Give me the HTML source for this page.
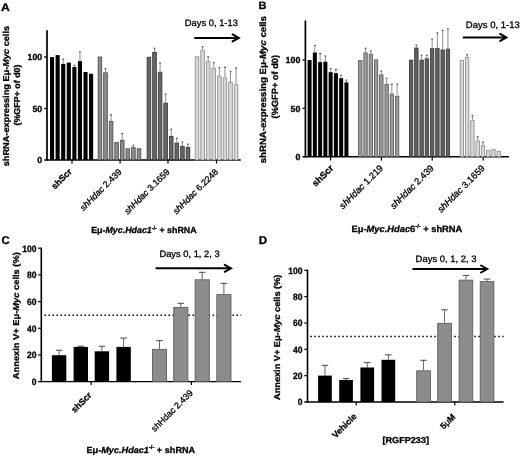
<!DOCTYPE html><html><head><meta charset="utf-8"><style>html,body{margin:0;padding:0;background:#fff;}svg{display:block;will-change:transform;}text{font-family:"Liberation Sans", sans-serif;fill:#000;text-rendering:geometricPrecision;stroke:#000;stroke-width:0.3px;}</style></head><body>
<svg width="520" height="456" viewBox="0 0 520 456">
<rect width="520" height="456" fill="#fff"/>
<line x1="47" y1="30.3" x2="47" y2="160.6" stroke="#000" stroke-width="1.7" />
<line x1="44.2" y1="160" x2="240.7" y2="160" stroke="#000" stroke-width="1.4" />
<line x1="44.2" y1="57" x2="47" y2="57" stroke="#000" stroke-width="1.4" />
<line x1="44.2" y1="108.5" x2="47" y2="108.5" stroke="#000" stroke-width="1.4" />
<text x="42.2" y="60.2" font-size="8.8" font-weight="bold" text-anchor="end"  style="">100</text>
<text x="42.2" y="111.7" font-size="8.8" font-weight="bold" text-anchor="end"  style="">50</text>
<text x="42.2" y="163.2" font-size="8.8" font-weight="bold" text-anchor="end"  style="">0</text>
<line x1="72" y1="160" x2="72" y2="163.5" stroke="#000" stroke-width="1.2" />
<line x1="120.1" y1="160" x2="120.1" y2="163.5" stroke="#000" stroke-width="1.2" />
<line x1="168" y1="160" x2="168" y2="163.5" stroke="#000" stroke-width="1.2" />
<line x1="216.5" y1="160" x2="216.5" y2="163.5" stroke="#000" stroke-width="1.2" />
<rect x="50" y="57.1" width="4.1" height="102.9" fill="#000"/>
<rect x="55.58" y="55.1" width="4.1" height="104.9" fill="#000"/>
<line x1="63.21" y1="63.9" x2="63.21" y2="59.1" stroke="#707070" stroke-width="0.8" />
<line x1="62.31" y1="59.1" x2="64.11" y2="59.1" stroke="#404040" stroke-width="1.0" />
<rect x="61.16" y="63.9" width="4.1" height="96.1" fill="#000"/>
<rect x="66.74" y="62.6" width="4.1" height="97.4" fill="#000"/>
<line x1="74.37" y1="67" x2="74.37" y2="65.2" stroke="#707070" stroke-width="0.8" />
<line x1="73.47" y1="65.2" x2="75.27" y2="65.2" stroke="#404040" stroke-width="1.0" />
<rect x="72.32" y="67" width="4.1" height="93" fill="#000"/>
<line x1="79.95" y1="61.1" x2="79.95" y2="52" stroke="#707070" stroke-width="0.8" />
<line x1="79.05" y1="52" x2="80.85" y2="52" stroke="#404040" stroke-width="1.0" />
<rect x="77.9" y="61.1" width="4.1" height="98.9" fill="#000"/>
<rect x="83.48" y="72" width="4.1" height="88" fill="#000"/>
<rect x="89.06" y="73.7" width="4.1" height="86.3" fill="#000"/>
<rect x="98.1" y="57" width="3.65" height="103" fill="#8a8a8a" stroke="#4a4a4a" stroke-width="0.8"/>
<line x1="105.5" y1="72.4" x2="105.5" y2="68.7" stroke="#707070" stroke-width="0.8" />
<line x1="104.6" y1="68.7" x2="106.41" y2="68.7" stroke="#404040" stroke-width="1.0" />
<rect x="103.68" y="72.8" width="3.65" height="87.2" fill="#8a8a8a" stroke="#4a4a4a" stroke-width="0.8"/>
<line x1="111.08" y1="121.1" x2="111.08" y2="114.8" stroke="#707070" stroke-width="0.8" />
<line x1="110.18" y1="114.8" x2="111.98" y2="114.8" stroke="#404040" stroke-width="1.0" />
<rect x="109.26" y="121.5" width="3.65" height="38.5" fill="#8a8a8a" stroke="#4a4a4a" stroke-width="0.8"/>
<rect x="114.84" y="142.4" width="3.65" height="17.6" fill="#8a8a8a" stroke="#4a4a4a" stroke-width="0.8"/>
<line x1="122.25" y1="139.9" x2="122.25" y2="133.5" stroke="#707070" stroke-width="0.8" />
<line x1="121.34" y1="133.5" x2="123.15" y2="133.5" stroke="#404040" stroke-width="1.0" />
<rect x="120.42" y="140.3" width="3.65" height="19.7" fill="#8a8a8a" stroke="#4a4a4a" stroke-width="0.8"/>
<rect x="126" y="148.8" width="3.65" height="11.2" fill="#8a8a8a" stroke="#4a4a4a" stroke-width="0.8"/>
<line x1="133.41" y1="147.2" x2="133.41" y2="145.2" stroke="#707070" stroke-width="0.8" />
<line x1="132.5" y1="145.2" x2="134.31" y2="145.2" stroke="#404040" stroke-width="1.0" />
<rect x="131.58" y="147.6" width="3.65" height="12.4" fill="#8a8a8a" stroke="#4a4a4a" stroke-width="0.8"/>
<rect x="137.16" y="148.8" width="3.65" height="11.2" fill="#8a8a8a" stroke="#4a4a4a" stroke-width="0.8"/>
<rect x="147.1" y="57.2" width="3.65" height="102.8" fill="#666666" stroke="#333333" stroke-width="0.8"/>
<line x1="154.5" y1="52.1" x2="154.5" y2="48.2" stroke="#707070" stroke-width="0.8" />
<line x1="153.6" y1="48.2" x2="155.41" y2="48.2" stroke="#404040" stroke-width="1.0" />
<rect x="152.68" y="52.5" width="3.65" height="107.5" fill="#666666" stroke="#333333" stroke-width="0.8"/>
<line x1="160.08" y1="71.8" x2="160.08" y2="63" stroke="#707070" stroke-width="0.8" />
<line x1="159.18" y1="63" x2="160.98" y2="63" stroke="#404040" stroke-width="1.0" />
<rect x="158.26" y="72.2" width="3.65" height="87.8" fill="#666666" stroke="#333333" stroke-width="0.8"/>
<line x1="165.66" y1="102.8" x2="165.66" y2="94" stroke="#707070" stroke-width="0.8" />
<line x1="164.76" y1="94" x2="166.56" y2="94" stroke="#404040" stroke-width="1.0" />
<rect x="163.84" y="103.2" width="3.65" height="56.8" fill="#666666" stroke="#333333" stroke-width="0.8"/>
<line x1="171.24" y1="135.9" x2="171.24" y2="129.2" stroke="#707070" stroke-width="0.8" />
<line x1="170.34" y1="129.2" x2="172.14" y2="129.2" stroke="#404040" stroke-width="1.0" />
<rect x="169.42" y="136.3" width="3.65" height="23.7" fill="#666666" stroke="#333333" stroke-width="0.8"/>
<line x1="176.82" y1="142.7" x2="176.82" y2="138.2" stroke="#707070" stroke-width="0.8" />
<line x1="175.92" y1="138.2" x2="177.72" y2="138.2" stroke="#404040" stroke-width="1.0" />
<rect x="175" y="143.1" width="3.65" height="16.9" fill="#666666" stroke="#333333" stroke-width="0.8"/>
<line x1="182.41" y1="145.9" x2="182.41" y2="142" stroke="#707070" stroke-width="0.8" />
<line x1="181.5" y1="142" x2="183.31" y2="142" stroke="#404040" stroke-width="1.0" />
<rect x="180.58" y="146.3" width="3.65" height="13.7" fill="#666666" stroke="#333333" stroke-width="0.8"/>
<line x1="187.98" y1="147" x2="187.98" y2="144.2" stroke="#707070" stroke-width="0.8" />
<line x1="187.08" y1="144.2" x2="188.88" y2="144.2" stroke="#404040" stroke-width="1.0" />
<rect x="186.16" y="147.4" width="3.65" height="12.6" fill="#666666" stroke="#333333" stroke-width="0.8"/>
<rect x="195.2" y="56.8" width="3.65" height="103.2" fill="#d6d6d6" stroke="#8a8a8a" stroke-width="0.8"/>
<line x1="202.61" y1="50.3" x2="202.61" y2="46.6" stroke="#707070" stroke-width="0.8" />
<line x1="201.71" y1="46.6" x2="203.51" y2="46.6" stroke="#404040" stroke-width="1.0" />
<rect x="200.78" y="50.7" width="3.65" height="109.3" fill="#d6d6d6" stroke="#8a8a8a" stroke-width="0.8"/>
<line x1="208.19" y1="61.3" x2="208.19" y2="56.8" stroke="#707070" stroke-width="0.8" />
<line x1="207.28" y1="56.8" x2="209.09" y2="56.8" stroke="#404040" stroke-width="1.0" />
<rect x="206.36" y="61.7" width="3.65" height="98.3" fill="#d6d6d6" stroke="#8a8a8a" stroke-width="0.8"/>
<line x1="213.77" y1="67.9" x2="213.77" y2="62.6" stroke="#707070" stroke-width="0.8" />
<line x1="212.87" y1="62.6" x2="214.67" y2="62.6" stroke="#404040" stroke-width="1.0" />
<rect x="211.94" y="68.3" width="3.65" height="91.7" fill="#d6d6d6" stroke="#8a8a8a" stroke-width="0.8"/>
<line x1="219.34" y1="75.8" x2="219.34" y2="67.4" stroke="#707070" stroke-width="0.8" />
<line x1="218.44" y1="67.4" x2="220.25" y2="67.4" stroke="#404040" stroke-width="1.0" />
<rect x="217.52" y="76.2" width="3.65" height="83.8" fill="#d6d6d6" stroke="#8a8a8a" stroke-width="0.8"/>
<line x1="224.93" y1="77.5" x2="224.93" y2="67.2" stroke="#707070" stroke-width="0.8" />
<line x1="224.03" y1="67.2" x2="225.83" y2="67.2" stroke="#404040" stroke-width="1.0" />
<rect x="223.1" y="77.9" width="3.65" height="82.1" fill="#d6d6d6" stroke="#8a8a8a" stroke-width="0.8"/>
<line x1="230.51" y1="82.1" x2="230.51" y2="71.3" stroke="#707070" stroke-width="0.8" />
<line x1="229.61" y1="71.3" x2="231.41" y2="71.3" stroke="#404040" stroke-width="1.0" />
<rect x="228.68" y="82.5" width="3.65" height="77.5" fill="#d6d6d6" stroke="#8a8a8a" stroke-width="0.8"/>
<line x1="236.09" y1="84.3" x2="236.09" y2="68" stroke="#707070" stroke-width="0.8" />
<line x1="235.19" y1="68" x2="236.99" y2="68" stroke="#404040" stroke-width="1.0" />
<rect x="234.26" y="84.7" width="3.65" height="75.3" fill="#d6d6d6" stroke="#8a8a8a" stroke-width="0.8"/>
<g transform="translate(8.9,96.1) rotate(-90)"><text x="0" y="0" font-size="8.6" font-weight="bold" text-anchor="middle" textLength="140.4" lengthAdjust="spacingAndGlyphs">shRNA-expressing E&#956;-<tspan font-style="italic">Myc</tspan> cells</text></g>
<g transform="translate(19.9,95.0) rotate(-90)"><text x="0" y="0" font-size="8.6" font-weight="bold" text-anchor="middle" textLength="61" lengthAdjust="spacingAndGlyphs">(%GFP+ of d0)</text></g>
<g transform="translate(72.4,172.2) rotate(-45)"><text x="0" y="0" font-size="8.9" font-weight="bold" text-anchor="end">shScr</text></g>
<g transform="translate(122.3,172.4) rotate(-45)"><text x="0" y="0" font-size="8.9" font-weight="normal" text-anchor="end"><tspan font-style="italic">shHdac</tspan> 2.439</text></g>
<g transform="translate(170.2,172.4) rotate(-45)"><text x="0" y="0" font-size="8.9" font-weight="normal" text-anchor="end"><tspan font-style="italic">shHdac</tspan> 3.1659</text></g>
<g transform="translate(218.7,172.4) rotate(-45)"><text x="0" y="0" font-size="8.9" font-weight="normal" text-anchor="end"><tspan font-style="italic">shHdac</tspan> 6.2248</text></g>
<text x="184.8" y="26.1" font-size="9.4" font-weight="normal" text-anchor="start" textLength="53.1" lengthAdjust="spacingAndGlyphs" stroke="#000" stroke-width="0.25" style="">Days 0, 1-13</text>
<line x1="194.3" y1="37.9" x2="237.8" y2="37.9" stroke="#000" stroke-width="2.0" />
<polyline points="232.6,34.4 238.8,37.9 232.6,41.4" fill="none" stroke="#000" stroke-width="2.0" stroke-linejoin="miter" stroke-linecap="round"/>
<text x="91.2" y="233" font-size="8.8" font-weight="bold" textLength="105.4" lengthAdjust="spacingAndGlyphs">E&#956;-<tspan font-style="italic">Myc.Hdac1</tspan><tspan font-size="5.5" dy="-3.5">-/-</tspan><tspan dy="3.5"> + shRNA</tspan></text>
<text x="1" y="10.7" font-size="11" font-weight="bold" text-anchor="start" textLength="8.8" lengthAdjust="spacingAndGlyphs"  style="">A</text>
<line x1="305.4" y1="20.4" x2="305.4" y2="157.4" stroke="#000" stroke-width="1.7" />
<line x1="302.5" y1="156.8" x2="509" y2="156.8" stroke="#000" stroke-width="1.4" />
<line x1="302.5" y1="60" x2="305.4" y2="60" stroke="#000" stroke-width="1.4" />
<line x1="302.5" y1="108.4" x2="305.4" y2="108.4" stroke="#000" stroke-width="1.4" />
<text x="300.3" y="63.2" font-size="8.8" font-weight="bold" text-anchor="end"  style="">100</text>
<text x="300.3" y="111.6" font-size="8.8" font-weight="bold" text-anchor="end"  style="">50</text>
<text x="300.3" y="160" font-size="8.8" font-weight="bold" text-anchor="end"  style="">0</text>
<line x1="330.6" y1="156.8" x2="330.6" y2="160.6" stroke="#000" stroke-width="1.2" />
<line x1="381.4" y1="156.8" x2="381.4" y2="160.6" stroke="#000" stroke-width="1.2" />
<line x1="432.2" y1="156.8" x2="432.2" y2="160.6" stroke="#000" stroke-width="1.2" />
<line x1="483.2" y1="156.8" x2="483.2" y2="160.6" stroke="#000" stroke-width="1.2" />
<rect x="307.6" y="60" width="4" height="96.8" fill="#000"/>
<line x1="314.86" y1="52.5" x2="314.86" y2="45.3" stroke="#707070" stroke-width="0.8" />
<line x1="313.96" y1="45.3" x2="315.76" y2="45.3" stroke="#404040" stroke-width="1.0" />
<rect x="312.86" y="52.5" width="4" height="104.3" fill="#000"/>
<line x1="320.12" y1="62.1" x2="320.12" y2="53.4" stroke="#707070" stroke-width="0.8" />
<line x1="319.22" y1="53.4" x2="321.02" y2="53.4" stroke="#404040" stroke-width="1.0" />
<rect x="318.12" y="62.1" width="4" height="94.7" fill="#000"/>
<line x1="325.38" y1="61.7" x2="325.38" y2="56" stroke="#707070" stroke-width="0.8" />
<line x1="324.48" y1="56" x2="326.28" y2="56" stroke="#404040" stroke-width="1.0" />
<rect x="323.38" y="61.7" width="4" height="95.1" fill="#000"/>
<line x1="330.64" y1="72.2" x2="330.64" y2="68.7" stroke="#707070" stroke-width="0.8" />
<line x1="329.74" y1="68.7" x2="331.54" y2="68.7" stroke="#404040" stroke-width="1.0" />
<rect x="328.64" y="72.2" width="4" height="84.6" fill="#000"/>
<line x1="335.9" y1="73.2" x2="335.9" y2="69.6" stroke="#707070" stroke-width="0.8" />
<line x1="335" y1="69.6" x2="336.8" y2="69.6" stroke="#404040" stroke-width="1.0" />
<rect x="333.9" y="73.2" width="4" height="83.6" fill="#000"/>
<line x1="341.16" y1="78.2" x2="341.16" y2="75.3" stroke="#707070" stroke-width="0.8" />
<line x1="340.26" y1="75.3" x2="342.06" y2="75.3" stroke="#404040" stroke-width="1.0" />
<rect x="339.16" y="78.2" width="4" height="78.6" fill="#000"/>
<line x1="346.42" y1="82.4" x2="346.42" y2="80.1" stroke="#707070" stroke-width="0.8" />
<line x1="345.52" y1="80.1" x2="347.32" y2="80.1" stroke="#404040" stroke-width="1.0" />
<rect x="344.42" y="82.4" width="4" height="74.4" fill="#000"/>
<rect x="358.6" y="60.4" width="3.4" height="96.4" fill="#9a9a9a" stroke="#555555" stroke-width="0.8"/>
<line x1="365.56" y1="52.5" x2="365.56" y2="48.2" stroke="#707070" stroke-width="0.8" />
<line x1="364.66" y1="48.2" x2="366.46" y2="48.2" stroke="#404040" stroke-width="1.0" />
<rect x="363.86" y="52.9" width="3.4" height="103.9" fill="#9a9a9a" stroke="#555555" stroke-width="0.8"/>
<line x1="370.82" y1="53.8" x2="370.82" y2="51" stroke="#707070" stroke-width="0.8" />
<line x1="369.92" y1="51" x2="371.72" y2="51" stroke="#404040" stroke-width="1.0" />
<rect x="369.12" y="54.2" width="3.4" height="102.6" fill="#9a9a9a" stroke="#555555" stroke-width="0.8"/>
<rect x="374.38" y="59.9" width="3.4" height="96.9" fill="#9a9a9a" stroke="#555555" stroke-width="0.8"/>
<line x1="381.34" y1="74.5" x2="381.34" y2="71" stroke="#707070" stroke-width="0.8" />
<line x1="380.44" y1="71" x2="382.24" y2="71" stroke="#404040" stroke-width="1.0" />
<rect x="379.64" y="74.9" width="3.4" height="81.9" fill="#9a9a9a" stroke="#555555" stroke-width="0.8"/>
<line x1="386.6" y1="84.1" x2="386.6" y2="78.2" stroke="#707070" stroke-width="0.8" />
<line x1="385.7" y1="78.2" x2="387.5" y2="78.2" stroke="#404040" stroke-width="1.0" />
<rect x="384.9" y="84.5" width="3.4" height="72.3" fill="#9a9a9a" stroke="#555555" stroke-width="0.8"/>
<line x1="391.86" y1="93.7" x2="391.86" y2="84.1" stroke="#707070" stroke-width="0.8" />
<line x1="390.96" y1="84.1" x2="392.76" y2="84.1" stroke="#404040" stroke-width="1.0" />
<rect x="390.16" y="94.1" width="3.4" height="62.7" fill="#9a9a9a" stroke="#555555" stroke-width="0.8"/>
<line x1="397.12" y1="95.9" x2="397.12" y2="84.1" stroke="#707070" stroke-width="0.8" />
<line x1="396.22" y1="84.1" x2="398.02" y2="84.1" stroke="#404040" stroke-width="1.0" />
<rect x="395.42" y="96.3" width="3.4" height="60.5" fill="#9a9a9a" stroke="#555555" stroke-width="0.8"/>
<rect x="409.4" y="60.1" width="3.4" height="96.7" fill="#606060" stroke="#333333" stroke-width="0.8"/>
<line x1="416.36" y1="47.6" x2="416.36" y2="45" stroke="#707070" stroke-width="0.8" />
<line x1="415.46" y1="45" x2="417.26" y2="45" stroke="#404040" stroke-width="1.0" />
<rect x="414.66" y="48" width="3.4" height="108.8" fill="#606060" stroke="#333333" stroke-width="0.8"/>
<line x1="421.62" y1="59.7" x2="421.62" y2="55.3" stroke="#707070" stroke-width="0.8" />
<line x1="420.72" y1="55.3" x2="422.52" y2="55.3" stroke="#404040" stroke-width="1.0" />
<rect x="419.92" y="60.1" width="3.4" height="96.7" fill="#606060" stroke="#333333" stroke-width="0.8"/>
<line x1="426.88" y1="58.4" x2="426.88" y2="55.3" stroke="#707070" stroke-width="0.8" />
<line x1="425.98" y1="55.3" x2="427.78" y2="55.3" stroke="#404040" stroke-width="1.0" />
<rect x="425.18" y="58.8" width="3.4" height="98" fill="#606060" stroke="#333333" stroke-width="0.8"/>
<line x1="432.14" y1="48.3" x2="432.14" y2="39.1" stroke="#707070" stroke-width="0.8" />
<line x1="431.24" y1="39.1" x2="433.04" y2="39.1" stroke="#404040" stroke-width="1.0" />
<rect x="430.44" y="48.7" width="3.4" height="108.1" fill="#606060" stroke="#333333" stroke-width="0.8"/>
<line x1="437.4" y1="47.9" x2="437.4" y2="32.9" stroke="#707070" stroke-width="0.8" />
<line x1="436.5" y1="32.9" x2="438.3" y2="32.9" stroke="#404040" stroke-width="1.0" />
<rect x="435.7" y="48.3" width="3.4" height="108.5" fill="#606060" stroke="#333333" stroke-width="0.8"/>
<line x1="442.66" y1="49.6" x2="442.66" y2="30.3" stroke="#707070" stroke-width="0.8" />
<line x1="441.76" y1="30.3" x2="443.56" y2="30.3" stroke="#404040" stroke-width="1.0" />
<rect x="440.96" y="50" width="3.4" height="106.8" fill="#606060" stroke="#333333" stroke-width="0.8"/>
<line x1="447.92" y1="48.7" x2="447.92" y2="28.9" stroke="#707070" stroke-width="0.8" />
<line x1="447.02" y1="28.9" x2="448.82" y2="28.9" stroke="#404040" stroke-width="1.0" />
<rect x="446.22" y="49.1" width="3.4" height="107.7" fill="#606060" stroke="#333333" stroke-width="0.8"/>
<rect x="460.2" y="60.3" width="3.4" height="96.5" fill="#d8d8d8" stroke="#8a8a8a" stroke-width="0.8"/>
<line x1="467.16" y1="57.2" x2="467.16" y2="54.6" stroke="#707070" stroke-width="0.8" />
<line x1="466.26" y1="54.6" x2="468.06" y2="54.6" stroke="#404040" stroke-width="1.0" />
<rect x="465.46" y="57.6" width="3.4" height="99.2" fill="#d8d8d8" stroke="#8a8a8a" stroke-width="0.8"/>
<line x1="472.42" y1="120.2" x2="472.42" y2="115.4" stroke="#707070" stroke-width="0.8" />
<line x1="471.52" y1="115.4" x2="473.32" y2="115.4" stroke="#404040" stroke-width="1.0" />
<rect x="470.72" y="120.6" width="3.4" height="36.2" fill="#d8d8d8" stroke="#8a8a8a" stroke-width="0.8"/>
<line x1="477.68" y1="140.6" x2="477.68" y2="136.8" stroke="#707070" stroke-width="0.8" />
<line x1="476.78" y1="136.8" x2="478.58" y2="136.8" stroke="#404040" stroke-width="1.0" />
<rect x="475.98" y="141" width="3.4" height="15.8" fill="#d8d8d8" stroke="#8a8a8a" stroke-width="0.8"/>
<line x1="482.94" y1="145.3" x2="482.94" y2="142" stroke="#707070" stroke-width="0.8" />
<line x1="482.04" y1="142" x2="483.84" y2="142" stroke="#404040" stroke-width="1.0" />
<rect x="481.24" y="145.7" width="3.4" height="11.1" fill="#d8d8d8" stroke="#8a8a8a" stroke-width="0.8"/>
<rect x="486.5" y="150.3" width="3.4" height="6.5" fill="#d8d8d8" stroke="#8a8a8a" stroke-width="0.8"/>
<rect x="491.76" y="149.3" width="3.4" height="7.5" fill="#d8d8d8" stroke="#8a8a8a" stroke-width="0.8"/>
<rect x="497.02" y="151.4" width="3.4" height="5.4" fill="#d8d8d8" stroke="#8a8a8a" stroke-width="0.8"/>
<g transform="translate(266.2,89.7) rotate(-90)"><text x="0" y="0" font-size="9" font-weight="bold" text-anchor="middle" textLength="147.2" lengthAdjust="spacingAndGlyphs">shRNA-expressing E&#956;-<tspan font-style="italic">Myc</tspan> cells</text></g>
<g transform="translate(278.2,86.7) rotate(-90)"><text x="0" y="0" font-size="9" font-weight="bold" text-anchor="middle" textLength="63.4" lengthAdjust="spacingAndGlyphs">(%GFP+ of d0)</text></g>
<g transform="translate(334,168.8) rotate(-45)"><text x="0" y="0" font-size="9.3" font-weight="bold" text-anchor="end">shScr</text></g>
<g transform="translate(383.7,168.8) rotate(-45)"><text x="0" y="0" font-size="9.3" font-weight="normal" text-anchor="end"><tspan font-style="italic">shHdac</tspan> 1.219</text></g>
<g transform="translate(434.5,168.8) rotate(-45)"><text x="0" y="0" font-size="9.3" font-weight="normal" text-anchor="end"><tspan font-style="italic">shHdac</tspan> 2.439</text></g>
<g transform="translate(485.5,168.8) rotate(-45)"><text x="0" y="0" font-size="9.3" font-weight="normal" text-anchor="end"><tspan font-style="italic">shHdac</tspan> 3.1659</text></g>
<text x="465.8" y="28.2" font-size="9.4" font-weight="normal" text-anchor="start" textLength="54" lengthAdjust="spacingAndGlyphs" stroke="#000" stroke-width="0.25" style="">Days 0, 1-13</text>
<line x1="462.8" y1="37.4" x2="505.4" y2="37.4" stroke="#000" stroke-width="2.0" />
<polyline points="500.2,33.9 506.4,37.4 500.2,40.9" fill="none" stroke="#000" stroke-width="2.0" stroke-linejoin="miter" stroke-linecap="round"/>
<text x="351.5" y="231.6" font-size="9.2" font-weight="bold" textLength="110.8" lengthAdjust="spacingAndGlyphs">E&#956;-<tspan font-style="italic">Myc.Hdac</tspan>6<tspan font-size="5.5" dy="-3.5">-/-</tspan><tspan dy="3.5"> + shRNA</tspan></text>
<text x="258.4" y="9.3" font-size="10.6" font-weight="bold" text-anchor="start" textLength="8" lengthAdjust="spacingAndGlyphs"  style="">B</text>
<line x1="41.3" y1="247.6" x2="41.3" y2="382.2" stroke="#000" stroke-width="1.6" />
<line x1="38.1" y1="381.6" x2="241.1" y2="381.6" stroke="#000" stroke-width="1.4" />
<line x1="38.1" y1="354.92" x2="41.3" y2="354.92" stroke="#000" stroke-width="1.2" />
<line x1="38.1" y1="328.24" x2="41.3" y2="328.24" stroke="#000" stroke-width="1.2" />
<line x1="38.1" y1="301.56" x2="41.3" y2="301.56" stroke="#000" stroke-width="1.2" />
<line x1="38.1" y1="274.88" x2="41.3" y2="274.88" stroke="#000" stroke-width="1.2" />
<line x1="38.1" y1="248.2" x2="41.3" y2="248.2" stroke="#000" stroke-width="1.2" />
<text x="36.4" y="384.9" font-size="9.2" font-weight="bold" text-anchor="end" textLength="4.75" lengthAdjust="spacingAndGlyphs"  style="">0</text>
<text x="36.4" y="358.22" font-size="9.2" font-weight="bold" text-anchor="end" textLength="9.5" lengthAdjust="spacingAndGlyphs"  style="">20</text>
<text x="36.4" y="331.54" font-size="9.2" font-weight="bold" text-anchor="end" textLength="9.5" lengthAdjust="spacingAndGlyphs"  style="">40</text>
<text x="36.4" y="304.86" font-size="9.2" font-weight="bold" text-anchor="end" textLength="9.5" lengthAdjust="spacingAndGlyphs"  style="">60</text>
<text x="36.4" y="278.18" font-size="9.2" font-weight="bold" text-anchor="end" textLength="9.5" lengthAdjust="spacingAndGlyphs"  style="">80</text>
<text x="36.4" y="251.5" font-size="9.2" font-weight="bold" text-anchor="end" textLength="14.25" lengthAdjust="spacingAndGlyphs"  style="">100</text>
<line x1="91.1" y1="381.6" x2="91.1" y2="385.1" stroke="#000" stroke-width="1.2" />
<line x1="191.4" y1="381.6" x2="191.4" y2="385.1" stroke="#000" stroke-width="1.2" />
<line x1="44.5" y1="315.2" x2="241.1" y2="315.2" stroke="#000" stroke-width="1.5" stroke-dasharray="1.5 2.5"/>
<line x1="59.1" y1="355.2" x2="59.1" y2="350.3" stroke="#555" stroke-width="0.9" />
<line x1="55.85" y1="350.3" x2="62.35" y2="350.3" stroke="#555" stroke-width="1.1" />
<rect x="51.9" y="355.2" width="14.4" height="26.4" fill="#000"/>
<line x1="80.8" y1="346.9" x2="80.8" y2="346.2" stroke="#555" stroke-width="0.9" />
<line x1="77.55" y1="346.2" x2="84.05" y2="346.2" stroke="#555" stroke-width="1.1" />
<rect x="73.6" y="346.9" width="14.4" height="34.7" fill="#000"/>
<line x1="101.9" y1="351.3" x2="101.9" y2="346.3" stroke="#555" stroke-width="0.9" />
<line x1="98.65" y1="346.3" x2="105.15" y2="346.3" stroke="#555" stroke-width="1.1" />
<rect x="94.7" y="351.3" width="14.4" height="30.3" fill="#000"/>
<line x1="123.6" y1="346.9" x2="123.6" y2="338.1" stroke="#555" stroke-width="0.9" />
<line x1="120.35" y1="338.1" x2="126.85" y2="338.1" stroke="#555" stroke-width="1.1" />
<rect x="116.4" y="346.9" width="14.4" height="34.7" fill="#000"/>
<line x1="159.5" y1="348.9" x2="159.5" y2="340.6" stroke="#555" stroke-width="0.9" />
<line x1="156.25" y1="340.6" x2="162.75" y2="340.6" stroke="#555" stroke-width="1.1" />
<rect x="152.4" y="349.3" width="14.2" height="32.3" fill="#8c8c8c" stroke="#555555" stroke-width="0.8"/>
<line x1="180.8" y1="307" x2="180.8" y2="303.3" stroke="#555" stroke-width="0.9" />
<line x1="177.55" y1="303.3" x2="184.05" y2="303.3" stroke="#555" stroke-width="1.1" />
<rect x="173.7" y="307.4" width="14.2" height="74.2" fill="#8c8c8c" stroke="#555555" stroke-width="0.8"/>
<line x1="202.2" y1="279.4" x2="202.2" y2="272.3" stroke="#555" stroke-width="0.9" />
<line x1="198.95" y1="272.3" x2="205.45" y2="272.3" stroke="#555" stroke-width="1.1" />
<rect x="195.1" y="279.8" width="14.2" height="101.8" fill="#8c8c8c" stroke="#555555" stroke-width="0.8"/>
<line x1="223.9" y1="294.2" x2="223.9" y2="283.4" stroke="#555" stroke-width="0.9" />
<line x1="220.65" y1="283.4" x2="227.15" y2="283.4" stroke="#555" stroke-width="1.1" />
<rect x="216.8" y="294.6" width="14.2" height="87" fill="#8c8c8c" stroke="#555555" stroke-width="0.8"/>
<line x1="155.6" y1="268.3" x2="229.9" y2="268.3" stroke="#000" stroke-width="2.0" />
<polyline points="224.7,264.8 230.9,268.3 224.7,271.8" fill="none" stroke="#000" stroke-width="2.0" stroke-linejoin="miter" stroke-linecap="round"/>
<text x="159.4" y="256.9" font-size="9.4" font-weight="normal" text-anchor="start" textLength="60.2" lengthAdjust="spacingAndGlyphs" stroke="#000" stroke-width="0.25" style="">Days 0, 1, 2, 3</text>
<text x="1.6" y="243.6" font-size="11.2" font-weight="bold" text-anchor="start" textLength="8.2" lengthAdjust="spacingAndGlyphs"  style="">C</text>
<g transform="translate(19.4,315.7) rotate(-90)"><text x="0" y="0" font-size="8.6" font-weight="bold" text-anchor="middle" textLength="127" lengthAdjust="spacingAndGlyphs">Annexin V+ E&#956;-<tspan font-style="italic">Myc</tspan> cells (%)</text></g>
<g transform="translate(92.3,395.8) rotate(-45)"><text x="0" y="0" font-size="8.9" font-weight="bold" text-anchor="end">shScr</text></g>
<g transform="translate(193.5,393.5) rotate(-45)"><text x="0" y="0" font-size="8.9" font-weight="normal" text-anchor="end">shHdac 2.439</text></g>
<text x="86.5" y="452.5" font-size="8.9" font-weight="bold" textLength="108.7" lengthAdjust="spacingAndGlyphs">E&#956;-<tspan font-style="italic">Myc.Hdac1</tspan><tspan font-size="5.5" dy="-3.5">-/-</tspan><tspan dy="3.5"> + shRNA</tspan></text>
<line x1="307.5" y1="269.7" x2="307.5" y2="402.6" stroke="#000" stroke-width="1.6" />
<line x1="304.3" y1="402" x2="503.6" y2="402" stroke="#000" stroke-width="1.4" />
<line x1="304.3" y1="375.66" x2="307.5" y2="375.66" stroke="#000" stroke-width="1.2" />
<line x1="304.3" y1="349.32" x2="307.5" y2="349.32" stroke="#000" stroke-width="1.2" />
<line x1="304.3" y1="322.98" x2="307.5" y2="322.98" stroke="#000" stroke-width="1.2" />
<line x1="304.3" y1="296.64" x2="307.5" y2="296.64" stroke="#000" stroke-width="1.2" />
<line x1="304.3" y1="270.3" x2="307.5" y2="270.3" stroke="#000" stroke-width="1.2" />
<text x="302.6" y="405.3" font-size="9.2" font-weight="bold" text-anchor="end" textLength="4.75" lengthAdjust="spacingAndGlyphs"  style="">0</text>
<text x="302.6" y="378.96" font-size="9.2" font-weight="bold" text-anchor="end" textLength="9.5" lengthAdjust="spacingAndGlyphs"  style="">20</text>
<text x="302.6" y="352.62" font-size="9.2" font-weight="bold" text-anchor="end" textLength="9.5" lengthAdjust="spacingAndGlyphs"  style="">40</text>
<text x="302.6" y="326.28" font-size="9.2" font-weight="bold" text-anchor="end" textLength="9.5" lengthAdjust="spacingAndGlyphs"  style="">60</text>
<text x="302.6" y="299.94" font-size="9.2" font-weight="bold" text-anchor="end" textLength="9.5" lengthAdjust="spacingAndGlyphs"  style="">80</text>
<text x="302.6" y="273.6" font-size="9.2" font-weight="bold" text-anchor="end" textLength="14.25" lengthAdjust="spacingAndGlyphs"  style="">100</text>
<line x1="356.2" y1="402" x2="356.2" y2="405.5" stroke="#000" stroke-width="1.2" />
<line x1="454.8" y1="402" x2="454.8" y2="405.5" stroke="#000" stroke-width="1.2" />
<line x1="310.3" y1="336.5" x2="503.6" y2="336.5" stroke="#000" stroke-width="1.5" stroke-dasharray="1.5 2.5"/>
<line x1="324.95" y1="375.6" x2="324.95" y2="365.4" stroke="#555" stroke-width="0.9" />
<line x1="321.7" y1="365.4" x2="328.2" y2="365.4" stroke="#555" stroke-width="1.1" />
<rect x="318.1" y="375.6" width="13.7" height="26.4" fill="#000"/>
<line x1="346.05" y1="380" x2="346.05" y2="378.5" stroke="#555" stroke-width="0.9" />
<line x1="342.8" y1="378.5" x2="349.3" y2="378.5" stroke="#555" stroke-width="1.1" />
<rect x="339.2" y="380" width="13.7" height="22" fill="#000"/>
<line x1="367.25" y1="367.5" x2="367.25" y2="362.5" stroke="#555" stroke-width="0.9" />
<line x1="364" y1="362.5" x2="370.5" y2="362.5" stroke="#555" stroke-width="1.1" />
<rect x="360.4" y="367.5" width="13.7" height="34.5" fill="#000"/>
<line x1="388.35" y1="359.8" x2="388.35" y2="354.8" stroke="#555" stroke-width="0.9" />
<line x1="385.1" y1="354.8" x2="391.6" y2="354.8" stroke="#555" stroke-width="1.1" />
<rect x="381.5" y="359.8" width="13.7" height="42.2" fill="#000"/>
<line x1="423.55" y1="370.4" x2="423.55" y2="360.3" stroke="#555" stroke-width="0.9" />
<line x1="420.3" y1="360.3" x2="426.8" y2="360.3" stroke="#555" stroke-width="1.1" />
<rect x="416.7" y="370.8" width="13.7" height="31.2" fill="#8c8c8c" stroke="#555555" stroke-width="0.8"/>
<line x1="444.55" y1="322.9" x2="444.55" y2="309.8" stroke="#555" stroke-width="0.9" />
<line x1="441.3" y1="309.8" x2="447.8" y2="309.8" stroke="#555" stroke-width="1.1" />
<rect x="437.7" y="323.3" width="13.7" height="78.7" fill="#8c8c8c" stroke="#555555" stroke-width="0.8"/>
<line x1="465.95" y1="279.7" x2="465.95" y2="275.5" stroke="#555" stroke-width="0.9" />
<line x1="462.7" y1="275.5" x2="469.2" y2="275.5" stroke="#555" stroke-width="1.1" />
<rect x="459.1" y="280.1" width="13.7" height="121.9" fill="#8c8c8c" stroke="#555555" stroke-width="0.8"/>
<line x1="487.05" y1="281.2" x2="487.05" y2="279.1" stroke="#555" stroke-width="0.9" />
<line x1="483.8" y1="279.1" x2="490.3" y2="279.1" stroke="#555" stroke-width="1.1" />
<rect x="480.2" y="281.6" width="13.7" height="120.4" fill="#8c8c8c" stroke="#555555" stroke-width="0.8"/>
<line x1="412.4" y1="269" x2="486.2" y2="269" stroke="#000" stroke-width="2.0" />
<polyline points="481,265.5 487.2,269 481,272.5" fill="none" stroke="#000" stroke-width="2.0" stroke-linejoin="miter" stroke-linecap="round"/>
<text x="415.6" y="261.8" font-size="9.4" font-weight="normal" text-anchor="start" textLength="60.9" lengthAdjust="spacingAndGlyphs" stroke="#000" stroke-width="0.25" style="">Days 0, 1, 2, 3</text>
<text x="258.8" y="244" font-size="11.2" font-weight="bold" text-anchor="start" textLength="8.4" lengthAdjust="spacingAndGlyphs"  style="">D</text>
<g transform="translate(279.5,337.3) rotate(-90)"><text x="0" y="0" font-size="8.6" font-weight="bold" text-anchor="middle" textLength="125.4" lengthAdjust="spacingAndGlyphs">Annexin V+ E&#956;-<tspan font-style="italic">Myc</tspan> cells (%)</text></g>
<g transform="translate(357.3,417) rotate(-45)"><text x="0" y="0" font-size="8.9" font-weight="bold" text-anchor="end">Vehicle</text></g>
<g transform="translate(456,417.5) rotate(-45)"><text x="0" y="0" font-size="8.9" font-weight="bold" text-anchor="end">5<tspan font-weight="normal">&#956;</tspan>M</text></g>
<text x="382.5" y="443" font-size="8.6" font-weight="bold" textLength="46.5" lengthAdjust="spacingAndGlyphs">[RGFP233]</text>
</svg></body></html>
